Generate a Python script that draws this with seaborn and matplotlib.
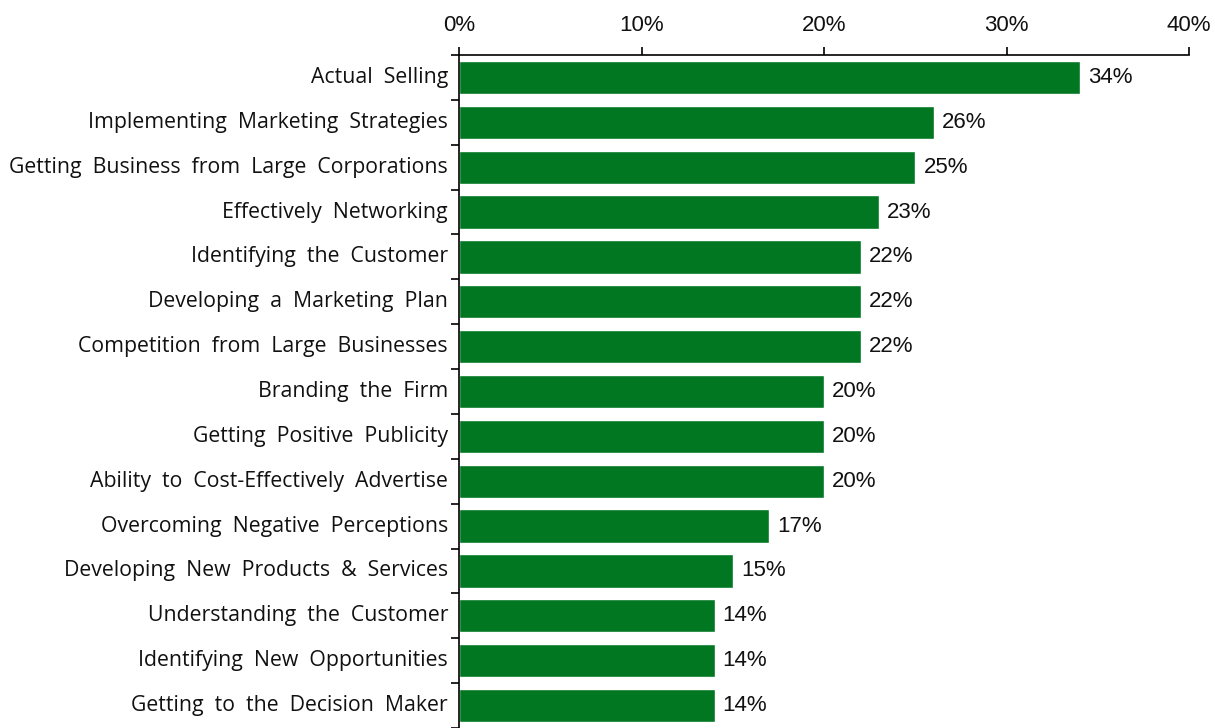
import matplotlib
matplotlib.use("Agg")
import matplotlib.pyplot as plt
import seaborn as sns
import pandas as pd

categories = [
    "Actual Selling",
    "Implementing Marketing Strategies",
    "Getting Business from Large Corporations",
    "Effectively Networking",
    "Identifying the Customer",
    "Developing a Marketing Plan",
    "Competition from Large Businesses",
    "Branding the Firm",
    "Getting Positive Publicity",
    "Ability to Cost-Effectively Advertise",
    "Overcoming Negative Perceptions",
    "Developing New Products & Services",
    "Understanding the Customer",
    "Identifying New Opportunities",
    "Getting to the Decision Maker",
]
values = [34, 26, 25, 23, 22, 22, 22, 20, 20, 20, 17, 15, 14, 14, 14]
x_ticks = [0, 10, 20, 30, 40]

sns.set_theme(style="white")
label_font = ["Open Sans", "DejaVu Sans"]
num_font = ["Liberation Sans Narrow", "Liberation Sans", "DejaVu Sans"]

df = pd.DataFrame({"category": categories, "value": values})

fig = plt.figure(figsize=(12.15, 7.28), dpi=100)
ax = fig.add_axes([459 / 1215, 0.0, 730 / 1215, 1 - 55 / 728])

sns.barplot(data=df, x="value", y="category", orient="h", color="#017722",
            saturation=1, width=0.74, ax=ax)

ax.set_xlim(0, 40)
ax.set_ylim(14.5, -0.5)
ax.xaxis.tick_top()
ax.set_xticks(x_ticks)
ax.set_xticklabels([f"{t}%" for t in x_ticks], family=num_font, fontsize=16,
                   color="#111111")
ax.tick_params(axis="x", direction="out", length=6, width=1.2, color="black",
               pad=8, top=True, bottom=False)

ax.set_yticks([i + 0.5 for i in range(-1, len(categories))])
ax.set_yticklabels([])
ax.tick_params(axis="y", direction="out", length=6, width=1.2, color="black", left=True)
for i, name in enumerate(categories):
    ax.text(-0.6, i, "  ".join(name.split(" ")), ha="right", va="center",
            fontsize=15.3, family=label_font, color="#111111")

for spine in ["right", "bottom"]:
    ax.spines[spine].set_visible(False)
for spine in ["top", "left"]:
    ax.spines[spine].set_visible(True)
    ax.spines[spine].set_color("black")
    ax.spines[spine].set_linewidth(1.2)

for i, v in enumerate(values):
    ax.text(v + 0.45, i, f"{v}%", ha="left", va="center", fontsize=16,
            family=num_font, color="#111111")

ax.set_xlabel("")
ax.set_ylabel("")
fig.savefig("out.png", dpi=100)
